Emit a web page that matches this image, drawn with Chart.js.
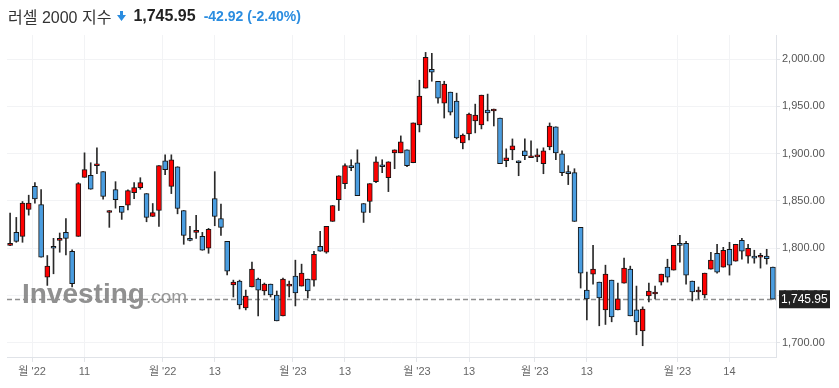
<!DOCTYPE html>
<html lang="ko">
<head>
<meta charset="utf-8">
<title>러셀 2000 지수</title>
<script src="https://cdn.jsdelivr.net/npm/chart.js@4.4.1/dist/chart.umd.min.js"></script>
<style>
  html, body { margin: 0; padding: 0; background: #fff; }
  #wrap { position: relative; width: 839px; height: 388px; overflow: hidden; }
  #chart { position: absolute; left: 0; top: 0; }
  .head {
    position: absolute; left: 8px; top: 5px; height: 22px;
    display: flex; align-items: center; white-space: nowrap;
    font-family: Arial, "Liberation Sans", "Noto Sans CJK KR", sans-serif;
  }
  .head .name { font-size: 16px; color: #333; }
  .head svg { margin: 0 7px 0 6px; }
  .head .last { font-size: 16px; font-weight: bold; color: #222; }
  .head .chg { font-size: 14px; font-weight: bold; color: #2b8de0; margin-left: 8px; }
</style>
</head>
<body>
<div id="wrap">
  <canvas id="chart" width="839" height="388"></canvas>
  <div class="head">
    <span class="name">러셀 2000 지수</span>
    <svg width="9" height="10" viewBox="0 0 9 10"><path d="M3 0H6V4H9L4.5 10L0 4H3Z" fill="#2b8de0"/></svg>
    <span class="last">1,745.95</span>
    <span class="chg">-42.92 (-2.40%)</span>
  </div>
</div>
<script>
// 캔들 데이터
const OPEN = [
  1803.0, 1816.7, 1812.5, 1840.9, 1865.4, 1846.2, 1769.4, 1802.0, 1808.3, 1816.7,
  1796.7, 1812.5, 1874.9, 1877.0, 1887.2, 1880.9, 1837.7, 1861.9, 1844.1, 1845.5,
  1858.8, 1864.0, 1857.7, 1833.5, 1839.8, 1892.4, 1865.4, 1886.1, 1839.8, 1810.4,
  1816.7, 1812.5, 1799.9, 1852.5, 1831.4, 1807.2, 1761.0, 1765.2, 1736.8, 1758.9,
  1767.3, 1754.7, 1762.0, 1750.5, 1728.4, 1759.9, 1770.4, 1759.9, 1767.3, 1766.2,
  1802.0, 1795.7, 1828.3, 1851.4, 1868.2, 1887.2, 1890.3, 1847.2, 1849.3, 1870.3,
  1888.2, 1874.5, 1900.8, 1900.8, 1904.0, 1890.3, 1930.3, 1969.2, 1989.2, 1976.5,
  1953.4, 1965.0, 1955.5, 1911.3, 1920.8, 1934.5, 1930.3, 1946.0, 1945.0, 1937.6,
  1892.4, 1904.0, 1892.4, 1902.9, 1895.6, 1896.6, 1889.3, 1907.1, 1928.2, 1899.8,
  1880.9, 1879.8, 1822.0, 1755.7, 1772.5, 1764.1, 1734.7, 1766.2, 1734.7, 1763.1,
  1777.8, 1734.7, 1712.6, 1749.4, 1751.5, 1764.1, 1779.9, 1776.8, 1805.1, 1805.1,
  1765.2, 1753.6, 1750.5, 1777.8, 1794.6, 1779.9, 1798.8, 1786.2, 1808.3, 1791.5,
  1791.5, 1790.4, 1791.5, 1779.9
];
const HIGH = [
  1837.0, 1832.5, 1849.3, 1856.0, 1869.3, 1861.9, 1792.2, 1810.4, 1816.0, 1831.4,
  1798.1, 1869.3, 1900.8, 1890.3, 1906.1, 1880.9, 1839.8, 1870.3, 1844.1, 1861.6,
  1869.3, 1874.5, 1857.7, 1847.2, 1887.2, 1898.7, 1898.7, 1886.1, 1839.8, 1823.0,
  1834.6, 1816.7, 1820.9, 1880.9, 1846.5, 1807.2, 1766.2, 1766.2, 1755.7, 1785.2,
  1768.3, 1763.1, 1762.0, 1754.7, 1768.3, 1765.2, 1787.3, 1783.1, 1767.3, 1796.7,
  1817.8, 1823.0, 1845.1, 1876.6, 1889.3, 1893.5, 1904.0, 1847.2, 1868.2, 1896.6,
  1893.5, 1891.4, 1904.0, 1918.7, 1904.0, 1932.4, 1977.6, 2007.0, 2006.0, 1976.5,
  1976.5, 1965.0, 1963.9, 1920.8, 1942.9, 1952.3, 1961.8, 1962.9, 1947.1, 1937.6,
  1905.0, 1915.5, 1892.4, 1915.5, 1913.4, 1905.0, 1906.1, 1932.4, 1928.2, 1902.9,
  1887.2, 1884.0, 1822.0, 1774.7, 1803.0, 1764.1, 1782.0, 1766.2, 1763.1, 1789.4,
  1781.0, 1759.9, 1737.9, 1763.1, 1759.9, 1772.5, 1788.3, 1803.0, 1813.5, 1807.2,
  1765.2, 1758.9, 1773.6, 1795.7, 1804.1, 1800.9, 1806.2, 1804.1, 1810.4, 1804.1,
  1797.8, 1794.6, 1798.8, 1779.9
];
const LOW = [
  1802.7, 1806.2, 1806.2, 1834.9, 1847.6, 1790.4, 1760.6, 1772.9, 1795.7, 1792.9,
  1758.9, 1812.5, 1874.9, 1862.3, 1878.7, 1851.8, 1822.0, 1842.3, 1830.4, 1840.5,
  1852.4, 1862.3, 1827.9, 1833.5, 1823.0, 1877.7, 1857.7, 1836.3, 1804.1, 1807.6,
  1810.4, 1797.8, 1794.6, 1823.7, 1813.5, 1771.8, 1748.4, 1735.7, 1734.7, 1758.9,
  1728.4, 1750.5, 1748.4, 1723.1, 1728.4, 1748.4, 1738.9, 1759.9, 1747.3, 1759.9,
  1796.7, 1794.6, 1828.3, 1839.8, 1863.0, 1881.9, 1855.6, 1827.2, 1837.7, 1869.3,
  1879.8, 1859.8, 1884.0, 1900.8, 1886.1, 1890.3, 1922.9, 1969.2, 1976.5, 1953.4,
  1937.6, 1940.8, 1915.5, 1905.0, 1914.5, 1921.9, 1926.1, 1934.5, 1929.2, 1889.3,
  1886.1, 1893.5, 1876.6, 1893.5, 1895.6, 1891.4, 1878.7, 1904.0, 1893.5, 1876.6,
  1867.2, 1828.3, 1757.8, 1724.2, 1762.0, 1717.9, 1719.3, 1722.1, 1734.7, 1763.1,
  1728.4, 1708.4, 1696.8, 1743.1, 1746.3, 1761.0, 1764.1, 1776.8, 1785.2, 1762.0,
  1744.2, 1746.3, 1747.3, 1777.8, 1773.6, 1779.9, 1771.5, 1786.2, 1788.3, 1784.1,
  1784.1, 1778.9, 1783.1, 1745.95
];
const CLOSE = [
  1805.1, 1807.2, 1847.6, 1847.6, 1852.1, 1790.4, 1781.0, 1799.9, 1810.4, 1810.4,
  1762.4, 1868.2, 1883.0, 1862.3, 1889.3, 1854.6, 1839.8, 1851.4, 1837.7, 1860.9,
  1864.0, 1869.3, 1832.5, 1837.7, 1887.2, 1883.0, 1893.5, 1841.9, 1813.5, 1808.3,
  1818.8, 1797.8, 1819.9, 1833.5, 1822.0, 1775.7, 1764.1, 1740.0, 1749.4, 1777.8,
  1755.7, 1762.0, 1750.5, 1723.1, 1767.3, 1762.0, 1752.6, 1773.6, 1754.7, 1793.6,
  1796.7, 1823.0, 1845.1, 1876.6, 1887.2, 1885.1, 1855.6, 1837.7, 1868.2, 1891.4,
  1886.1, 1891.4, 1904.0, 1912.4, 1887.2, 1932.4, 1960.8, 2001.8, 1986.0, 1958.7,
  1973.4, 1943.9, 1916.6, 1919.7, 1941.8, 1940.8, 1961.8, 1942.9, 1947.1, 1889.3,
  1895.6, 1908.2, 1890.3, 1897.7, 1897.7, 1898.7, 1902.9, 1929.2, 1900.8, 1879.8,
  1878.7, 1828.3, 1773.6, 1746.3, 1777.8, 1747.3, 1772.5, 1727.3, 1746.3, 1778.9,
  1728.4, 1722.1, 1735.7, 1754.7, 1753.6, 1772.5, 1769.4, 1803.0, 1803.0, 1771.5,
  1753.6, 1755.7, 1773.6, 1787.3, 1774.7, 1797.8, 1782.0, 1804.1, 1796.7, 1799.9,
  1789.4, 1792.5, 1788.9, 1745.95
];

// 축 눈금
const X_TICK_POS = [3.55, 12, 24.6, 33, 45.6, 54, 65.6, 74, 84.6, 93, 107.6, 116];
const X_TICK_LABELS = ["월 '22", '11', "월 '22", '13', "월 '23", '13', "월 '23", '13', "월 '23", '13', "월 '23", '14'];
const Y_TICKS = [1700, 1750, 1800, 1850, 1900, 1950, 2000];
const LAST_PRICE = 1745.95;

const UP = '#ff0000';
const DOWN = '#4a9de0';
const FONT = 'Arial, "Liberation Sans", "Noto Sans CJK KR", sans-serif';

const fmt = v => v.toLocaleString('en-US', { minimumFractionDigits: 2, maximumFractionDigits: 2 });

// 워터마크 + 현재가 점선 (캔들 아래)
const underlay = {
  id: 'underlay',
  beforeDatasetsDraw(chart) {
    const { ctx, chartArea, scales } = chart;
    ctx.save();
    ctx.fillStyle = 'rgba(125,125,125,0.85)';
    ctx.textBaseline = 'alphabetic';
    ctx.font = 'bold 28px ' + FONT;
    ctx.fillText('Investing', 22, 303);
    const w = ctx.measureText('Investing').width;
    ctx.font = '19px ' + FONT;
    ctx.fillStyle = 'rgba(125,125,125,0.8)';
    ctx.fillText('.com', 22 + w + 1, 303);

    const y = Math.round(scales.y.getPixelForValue(LAST_PRICE)) + 0.5;
    ctx.strokeStyle = '#8f8f8f';
    ctx.lineWidth = 1.5;
    ctx.setLineDash([5, 3]);
    ctx.beginPath();
    ctx.moveTo(chartArea.left, y);
    ctx.lineTo(chartArea.right, y);
    ctx.stroke();
    ctx.restore();
  }
};

// 오른쪽 현재가 라벨
const priceTag = {
  id: 'priceTag',
  afterDraw(chart) {
    const { ctx, chartArea, scales } = chart;
    const y = scales.y.getPixelForValue(LAST_PRICE);
    ctx.save();
    ctx.fillStyle = '#222';
    ctx.fillRect(chartArea.right + 3, y - 9, 51, 18);
    ctx.fillStyle = '#fff';
    ctx.font = '12px ' + FONT;
    ctx.textBaseline = 'middle';
    ctx.fillText(fmt(LAST_PRICE), chartArea.right + 5, y + 0.5);
    ctx.restore();
  }
};

const wicks = OPEN.map((_, i) => ({ x: i, y: [LOW[i], HIGH[i]] }));
const bodies = OPEN.map((o, i) => ({ x: i, y: [o, CLOSE[i]] }));
const bodyColors = OPEN.map((o, i) => CLOSE[i] >= o ? UP : DOWN);

new Chart(document.getElementById('chart'), {
  type: 'bar',
  data: {
    datasets: [
      {
        label: 'body',
        data: bodies,
        backgroundColor: bodyColors,
        borderColor: '#151515',
        borderWidth: 1,
        borderSkipped: false,
        barThickness: 5,
        grouped: false,
        order: 0,
      },
      {
        label: 'wick',
        data: wicks,
        backgroundColor: '#2a2a2a',
        borderWidth: 0,
        barThickness: 1,
        grouped: false,
        order: 1,
      }
    ]
  },
  options: {
    responsive: false,
    animation: false,
    devicePixelRatio: 1,
    layout: { padding: { left: 7, top: 35, right: 0, bottom: 0 } },
    plugins: { legend: { display: false }, tooltip: { enabled: false } },
    scales: {
      x: {
        type: 'linear',
        offset: false,
        min: -0.5,
        max: 123.5,
        afterBuildTicks: s => { s.ticks = X_TICK_POS.map(v => ({ value: v })); },
        afterFit: s => { s.height = 31; },
        ticks: {
          autoSkip: false,
          maxRotation: 0,
          padding: 3,
          color: '#666',
          font: { size: 11, family: FONT },
          callback: (v, i) => X_TICK_LABELS[i],
        },
        grid: { offset: false, color: '#f2f3f5', tickLength: 5, tickColor: '#e3e5e9' },
        border: { color: '#e0e3e8' },
      },
      y: {
        position: 'right',
        min: 1684.9,
        max: 2025.4,
        afterBuildTicks: s => { s.ticks = Y_TICKS.map(v => ({ value: v })); },
        afterFit: s => { s.width = 63; },
        ticks: {
          padding: 2,
          color: '#555',
          font: { size: 11, family: FONT },
          callback: v => fmt(v),
        },
        grid: { color: '#f2f3f5', tickLength: 4, tickColor: '#e3e5e9' },
        border: { color: '#e0e3e8' },
      }
    }
  },
  plugins: [underlay, priceTag]
});
</script>
</body>
</html>
